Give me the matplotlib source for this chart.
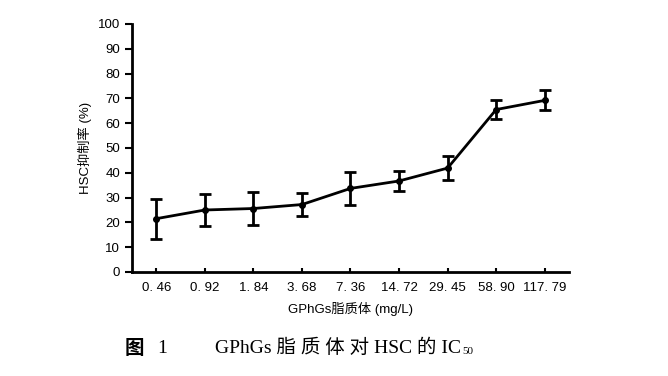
import matplotlib
matplotlib.use("Agg")
import matplotlib.pyplot as plt

# data
doser = ["0. 46", "0. 92", "1. 84", "3. 68", "7. 36", "14. 72", "29. 45", "58. 90", "117. 79"]
hemming = [21.5, 25.0, 25.6, 27.2, 33.7, 36.7, 41.9, 65.5, 69.2]
feil = [8.1, 6.6, 6.6, 4.5, 6.7, 4.2, 5.0, 4.0, 4.0]
yticks = [0, 10, 20, 30, 40, 50, 60, 70, 80, 90, 100]

plt.rcParams['font.family'] = ['Liberation Sans', 'Noto Sans CJK SC', 'DejaVu Sans']

fig = plt.figure(figsize=(6.68, 3.76), dpi=100)
ax = fig.add_axes([0.1976, 0.2766, 0.6542, 0.6596])

x = list(range(len(doser)))
ax.errorbar(x, hemming, yerr=feil, color="black", linewidth=2, marker="o",
            markersize=4, capsize=4, capthick=2, elinewidth=2)

ax.set_xlim(-0.5, 8.5)
ax.set_ylim(0, 100)
ax.set_yticks(yticks)
ax.set_xticks(x)
ax.set_xticklabels(doser, fontsize=9.5, family=['Liberation Sans Narrow', 'Liberation Sans'])
ax.tick_params(axis="y", direction="out", length=5, width=1.5, labelsize=9.5)
ax.tick_params(axis="x", direction="in", length=3, width=1.5, pad=7)

for s in ["top", "right"]:
    ax.spines[s].set_visible(False)
for s in ["left", "bottom"]:
    ax.spines[s].set_linewidth(2)

ax.set_xlabel("GPhGs脂质体 (mg/L)", fontsize=9.5, labelpad=6)
ax.set_ylabel("HSC抑制率 (%)", fontsize=9.5, labelpad=4)

# figurtekst under grafen
fig.text(0.187, 0.074, "图", fontsize=14, fontweight="bold",
         family=['Noto Sans CJK SC', 'DejaVu Sans'], va="center")
fig.text(0.236, 0.074, "1", fontsize=14, family='Liberation Serif', va="center")
tekst = fig.text(0.322, 0.074, "GPhGs 脂 质 体 对 HSC 的 IC", fontsize=14,
                 family=['Liberation Serif', 'Noto Sans CJK SC'], va="center")
r = fig.canvas.get_renderer()
bb = tekst.get_window_extent(renderer=r)
fig.text(bb.x1 / fig.bbox.width + 0.002, bb.y0 / fig.bbox.height + 0.004, "50",
         fontsize=8, family='Liberation Serif', va="bottom")

fig.savefig("out.png", dpi=100)
